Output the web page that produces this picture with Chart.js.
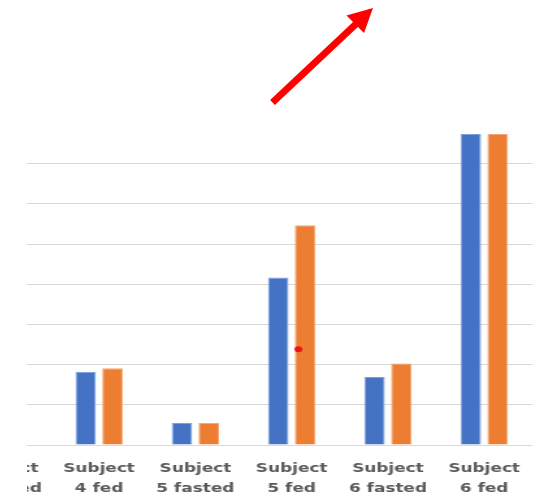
<!DOCTYPE html>
<html>
<head>
<meta charset="utf-8">
<script src="https://cdn.jsdelivr.net/npm/chart.js@4/dist/chart.umd.min.js"></script>
<style>
  html, body { margin: 0; padding: 0; background: #ffffff; }
  #frame { position: absolute; left: 27px; top: 0; width: 512px; height: 498px; overflow: hidden; background: #ffffff; }
  #chart { position: absolute; left: -81px; top: 0; transform: scaleX(1.3); transform-origin: 0 0; }
  #pointer { position: absolute; left: 0; top: 0; }
</style>
</head>
<body>
<div id="frame">
  <canvas id="chart" width="455" height="513"></canvas>
</div>
<svg id="pointer" width="539" height="498">
  <line x1="272.5" y1="102.5" x2="356" y2="24" stroke="#ff0000" stroke-width="7"/>
  <polygon points="346.5,15.5 373,8 364,33" fill="#ff0000"/>
</svg>
<script>
// Category labels (two lines each)
const categories = [
  ["Subject", "4 fasted"],
  ["Subject", "4 fed"],
  ["Subject", "5 fasted"],
  ["Subject", "5 fed"],
  ["Subject", "6 fasted"],
  ["Subject", "6 fed"]
];

// Series values
const series1 = [null, 1.82, 0.55, 4.17, 1.69, 7.74];
const series2 = [null, 1.91, 0.55, 5.47, 2.03, 7.74];

// Single marked point (x as a fractional category index, y in value units)
const markerX = [3.07];
const markerY = [2.38];

// Value axis
const yMax = 7.8;
const yStep = 1;

// Draws the marked point on top of the bars, positioned through the chart scales
const markerPlugin = {
  id: 'marker',
  afterDatasetsDraw(chart) {
    const xs = chart.scales.x, ys = chart.scales.y, ctx = chart.ctx;
    ctx.save();
    ctx.fillStyle = '#e8161b';
    markerX.forEach((v, i) => {
      ctx.beginPath();
      ctx.arc(xs.getPixelForValue(v), ys.getPixelForValue(markerY[i]), 3, 0, Math.PI * 2);
      ctx.fill();
    });
    ctx.restore();
  }
};

new Chart(document.getElementById('chart'), {
  type: 'bar',
  data: {
    labels: categories,
    datasets: [
      {
        label: 'Series 1',
        data: series1,
        backgroundColor: '#4472C4',
        borderColor: '#7f9fd8',
        borderWidth: 1,
        categoryPercentage: 0.557,
        barPercentage: 0.765
      },
      {
        label: 'Series 2',
        data: series2,
        backgroundColor: '#ED7D31',
        borderColor: '#f3a673',
        borderWidth: 1,
        categoryPercentage: 0.557,
        barPercentage: 0.765
      }
    ]
  },
  plugins: [markerPlugin],
  options: {
    responsive: false,
    devicePixelRatio: 1,
    animation: false,
    layout: { padding: { top: 131.5, left: 0, right: 0, bottom: 0 } },
    plugins: {
      legend: { display: false },
      tooltip: { enabled: false }
    },
    scales: {
      x: {
        type: 'category',
        offset: true,
        grid: { display: false, drawTicks: false },
        border: { display: false },
        ticks: {
          color: '#595959',
          padding: 14,
          maxRotation: 0,
          autoSkip: false,
          font: { family: 'DejaVu Sans', weight: 'bold', size: 13, lineHeight: 20 / 13 }
        }
      },
      y: {
        min: 0,
        max: yMax,
        grid: { color: '#d9d9d9', lineWidth: 1, drawTicks: false },
        border: { display: false },
        ticks: { display: false, stepSize: yStep, includeBounds: false }
      }
    }
  }
});
</script>
</body>
</html>
